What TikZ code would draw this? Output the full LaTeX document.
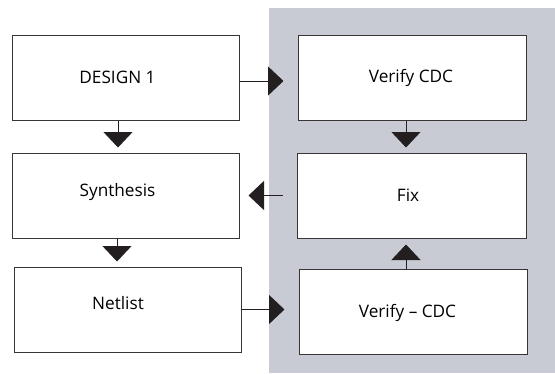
\documentclass[tikz,border=0pt]{standalone}
\usepackage{fontspec}
\setmainfont{Open Sans}
\usetikzlibrary{arrows.meta,calc}
\definecolor{panel}{RGB}{200,203,211}
\definecolor{ink}{RGB}{35,31,32}
\begin{document}
\begin{tikzpicture}[x=1pt,y=-1pt,
  box/.style={draw=ink!90, line width=1pt, fill=white, inner sep=0pt},
  lbl/.style={font=\fontsize{17.2}{19}\selectfont, text=black},
  arr/.style={draw=ink, line width=1pt, -{Triangle[length=15.5pt,width=29pt]}}]
\useasboundingbox (0,0) rectangle (555,373);
\fill[panel] (269,8) rectangle (555,373);
% left column
\node[box, minimum width=227pt, minimum height=85pt,
  label={[lbl, xshift=-8pt]center:DESIGN 1}] (d1) at (125.5,77.5) {};
\node[box, minimum width=227pt, minimum height=85pt,
  label={[lbl, xshift=-8pt, yshift=3pt]center:Synthesis}] (syn) at (125.5,195.5) {};
\node[box, minimum width=227pt, minimum height=85pt,
  label={[lbl, xshift=-9.5pt, yshift=6.5pt]center:Netlist}] (net) at (127.5,309.5) {};
% right column
\node[box, minimum width=228pt, minimum height=85pt,
  label={[lbl, xshift=-1pt, yshift=0pt]center:Verify CDC}] (v1) at (412,77.5) {};
\node[box, minimum width=229pt, minimum height=85pt,
  label={[lbl, xshift=-3.5pt]center:Fix}] (fix) at (411.5,195.5) {};
\node[box, minimum width=228pt, minimum height=85pt,
  label={[lbl, xshift=-5.5pt, yshift=-1.5pt]center:Verify -- CDC}] (v2) at (413,311.5) {};
% connectors
\draw[arr, shorten >=14pt] ([yshift=-3.5pt]d1.east) -- ([yshift=-3.5pt]d1.east -| v1.west);
\draw[arr, shorten >=5pt] ([xshift=-7.5pt]d1.south) -- ([xshift=-7.5pt]d1.south |- syn.north);
\draw[arr, shorten >=5pt] ([xshift=-8.5pt]syn.south) -- ([xshift=-8.5pt]syn.south |- net.north);
\draw[arr, shorten >=14pt] (net.east) -- (net.east -| v2.west);
\draw[arr, shorten >=5pt] ([xshift=-6pt]v1.south) -- ([xshift=-6pt]v1.south |- fix.north);
\draw[arr, shorten <=14pt, shorten >=9pt] (fix.west) -- (fix.west -| syn.east);
\draw[arr, shorten >=6pt] ([xshift=-7pt]v2.north) -- ([xshift=-7pt]v2.north |- fix.south);
\end{tikzpicture}
\end{document}
